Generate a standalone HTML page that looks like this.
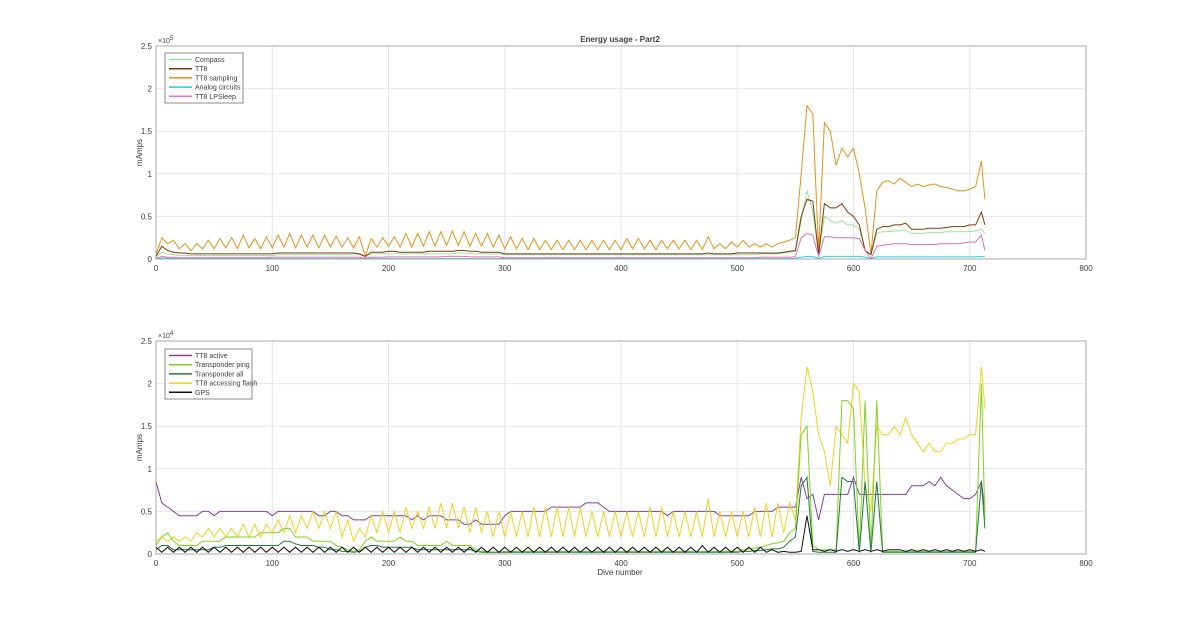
<!DOCTYPE html>
<html><head><meta charset="utf-8"><style>
body{margin:0;background:#fff;}
svg text{font-family:"Liberation Sans",sans-serif;fill:#404040;}
</style></head><body>
<svg id="chart" width="1200" height="622" viewBox="0 0 1200 622" xmlns="http://www.w3.org/2000/svg">
<rect width="1200" height="622" fill="#fff"/>
<g id="top"></g>
<g id="bot"></g>
</svg>
<script>
const step = 5;
const xTicks = [0,100,200,300,400,500,600,700,800];
const yTicks = [0,0.5,1,1.5,2,2.5];
const yTickLabels = ["0","0.5","1","1.5","2","2.5"];
// top panel values (x1000 mAmps), one value every 5 dives
const ttSampling = [5,25,18,22,12,18,10,18,12,22, 12,24,13,25,12,28,13,24,12,26, 13,28,14,30,13,28,14,28,13,28, 14,27,14,25,13,26,3,24,14,25, 15,26,14,30,14,30,15,32,15,32, 16,33,16,32,15,30,15,30,14,28, 12,26,12,24,11,24,11,22,11,22, 11,22,11,22,11,22,11,22,11,22, 11,24,12,24,12,22,11,22,12,22, 12,22,11,22,11,26,12,18,12,20, 14,22,14,18,14,18,14,18,20,22, 25,100,180,170,10,160,150,110,130,120, 130,100,60,5,80,90,92,88,95,90, 85,88,85,87,88,85,84,82,80,80, 82,85,115,70];
const tt8 = [3,15,10,8,7,7,6,6,6,6, 6,6,6,6,6,6,6,6,6,6, 6,7,7,7,7,7,7,7,7,7, 7,7,7,7,7,6,3,8,8,8, 9,9,8,8,8,8,8,9,9,9, 9,9,10,10,9,9,8,8,8,8, 6,6,6,6,6,6,6,6,6,6, 6,6,6,6,6,6,6,6,6,6, 6,6,6,6,6,6,6,6,6,6, 6,6,6,6,6,7,6,6,6,6, 7,7,7,7,7,7,7,7,8,9, 10,50,70,68,5,65,60,60,65,55, 50,40,10,5,35,38,38,40,40,42, 35,35,35,36,36,36,37,38,38,38, 40,40,55,40];
const compass = [2,8,6,5,4,4,4,4,4,4, 4,4,4,4,4,4,4,4,4,4, 4,5,5,5,5,5,5,5,5,5, 5,5,5,5,5,5,3,6,6,6, 6,6,6,6,6,6,6,6,6,6, 6,6,7,7,6,6,6,6,6,6, 5,5,5,5,5,5,5,5,5,5, 5,5,5,5,5,5,5,5,5,5, 5,5,5,5,5,5,5,5,5,5, 5,5,5,5,5,5,5,5,5,5, 5,5,5,5,6,6,6,6,7,8, 9,45,80,55,5,50,45,42,45,40, 40,35,10,5,30,32,32,33,33,34, 30,30,30,31,31,31,32,32,32,32, 32,33,35,30];
const lpSleep = [0.5,3,2,2,1.5,1.5,1.5,1.5,1.5,1.5, 1.5,1.5,1.5,1.5,1.5,1.5,1.5,1.5,1.5,1.5, 2,2,2,2,2,2,2,2,2,2, 2,2,2,2,2,2,1,2,2,2, 2.5,2.5,2.5,2.5,2.5,2.5,2.5,2.5,2.5,2.5, 3,3,3,3,2.5,2.5,2.5,2.5,2.5,2.5, 1.5,1.5,1.5,1.5,1.5,1.5,1.5,1.5,1.5,1.5, 1.5,1.5,1.5,1.5,1.5,1.5,1.5,1.5,1.5,1.5, 1.5,1.5,1.5,1.5,1.5,1.5,1.5,1.5,1.5,1.5, 1.5,1.5,1.5,1.5,1.5,1.5,1.5,1.5,1.5,1.5, 1.5,1.5,1.5,1.5,2,2,2,2,2,2, 3,25,30,28,3,26,26,25,25,25, 25,24,10,0,15,16,17,18,18,18, 17,17,17,17,17,18,18,18,18,19, 20,20,28,10];
const analog = [0.3,1,0.8,0.6,0.5,0.5,0.5,0.5,0.5,0.5, 0.5,0.5,0.5,0.5,0.5,0.5,0.5,0.5,0.5,0.5, 0.5,0.5,0.5,0.5,0.5,0.5,0.5,0.5,0.5,0.5, 0.5,0.5,0.5,0.5,0.5,0.5,0.5,0.5,0.5,0.5, 0.5,0.5,0.5,0.5,0.5,0.5,0.5,0.5,0.5,0.5, 0.5,0.5,0.5,0.5,0.5,0.5,0.5,0.5,0.5,0.5, 0.5,0.5,0.5,0.5,0.5,0.5,0.5,0.5,0.5,0.5, 0.5,0.5,0.5,0.5,0.5,0.5,0.5,0.5,0.5,0.5, 0.5,0.5,0.5,0.5,0.5,0.5,0.5,0.5,0.5,0.5, 0.5,0.5,0.5,0.5,0.5,0.5,0.5,0.5,0.5,0.5, 0.5,0.5,0.5,0.5,0.5,0.5,0.5,0.5,0.5,0.5, 0.8,2,3,3,0.5,3,3,3,3,3, 3,3,2,0.5,2.5,2.5,2.5,2.5,2.5,2.5, 2.5,2.5,2.5,2.5,2.5,2.5,2.5,2.5,2.5,2.5, 2.5,2.5,3,2.5];
// bottom panel values (x1000 mAmps)
const flash = [1.5,2,1.5,2,1.5,2,1.5,2.5,2,3, 2,3,2,3,2,3.5,2,3.5,2,3.5, 2.5,4,2.5,4.5,2.5,4.5,3,5,3,5, 3,5,2,4,1.5,3,2,4.5,2.5,5, 2.5,5,2.5,5.5,3,5,3,5.5,3,6, 3,6,3,5.5,2.5,5.5,2.5,5,2,5, 2,5,2,5,2,5.5,2,5.5,2,5.5, 2,5.5,2,5.5,2,5,2,5,2,5, 2,5,2,5,2,5.5,2,5.5,2,5, 2,5,2,5,2,6.5,2,5,2,5, 2,5,2,5.5,2,6,2,6,2.5,6, 4,16,22,19,14,12,8,15,14,13, 20,19,8,5,15,14,14,15,14,16, 14,13,12,13,12,12,13,13,13.5,13.5, 14,14,22,17];
const active = [8.5,6,5.5,5,4.5,4.5,4.5,4.5,5,5, 4.5,5,5,5,5,5,5,5,5,5, 4.5,5,5,5,5,5,5,5,4.5,4.5, 5,5,4.5,4.5,4,4,4,4.5,4.5,4.5, 4.5,4.5,4.5,4.5,4,4.5,4,4.5,4.5,4.5, 4,4,4,3.5,3.5,4,3.5,3.5,3.5,3.5, 4.5,5,5,5,5,5,5,5,5.5,5.5, 5.5,5.5,5.5,5.5,6,6,6,5.5,5,5, 5,5,5,5,5,5,5,5,4.5,5, 5,5,5,5,5,5,5,4.5,4.5,4.5, 4.5,4.5,4.5,5,5,5,5,5.5,5.5,5.5, 5.5,9,6.5,7,4,7,7,7,7,7, 9,7,7,7,7,7,7,7,7,7, 8,8,8,8.5,8,9,8,7.5,7,6.5, 6.5,7,8.5,5];
const ping = [1,2,2.5,1.5,1,1,1,1,1.5,1.5, 1.5,1.5,2,2,2,2,2,2,2.5,2.5, 2.5,2.5,3,3,2,2,2,1.5,1.5,1.5, 1.5,1,0.8,0.5,0.3,0.5,1.5,2,1.5,1.5, 1.5,1.5,2,1.5,1.5,1,1,1,1,1, 1.5,1,1,1,1,0.5,0.3,0.3,0.2,0.2, 0.3,0.3,0.3,0.3,0.3,0.3,0.3,0.3,0.3,0.3, 0.3,0.3,0.3,0.3,0.3,0.3,0.3,0.3,0.3,0.3, 0.3,0.3,0.3,0.3,0.3,0.3,0.3,0.3,0.3,0.3, 0.3,0.3,0.3,0.3,0.3,0.3,0.3,0.3,0.3,0.3, 0.3,0.5,0.6,0.7,0.8,1,1.2,1.3,1.5,2.5, 3,14,15,1,0.5,0.5,0.5,0.5,18,18, 17,0.3,18,0.3,18,0.3,0.3,0.3,0.3,0.3, 0.3,0.3,0.3,0.3,0.3,0.3,0.3,0.3,0.3,0.3, 0.3,0.3,20,4];
const tAll = [0.5,1,1,0.5,0.5,0.5,0.5,0.5,0.5,0.5, 0.8,0.8,1,1,1,1,1,1,1,1, 1,1,1.5,1.5,1.2,1,1,1,0.8,0.8, 0.5,0.5,0.3,0.3,0.2,0.3,0.8,1,1,0.8, 0.8,0.8,0.8,0.8,0.8,0.5,0.5,0.5,0.5,0.5, 0.5,0.5,0.5,0.5,0.5,0.3,0.2,0.2,0.2,0.2, 0.2,0.2,0.2,0.2,0.2,0.2,0.2,0.2,0.2,0.2, 0.2,0.2,0.2,0.2,0.2,0.2,0.2,0.2,0.2,0.2, 0.2,0.2,0.2,0.2,0.2,0.2,0.2,0.2,0.2,0.2, 0.2,0.2,0.2,0.2,0.2,0.2,0.2,0.2,0.2,0.2, 0.2,0.3,0.3,0.4,0.4,0.5,0.6,0.6,0.8,1.5, 2,8,9,0.3,0.2,0.2,0.2,0.2,9,8.5, 8.5,0.2,8.5,0.2,8.5,0.2,0.2,0.2,0.2,0.2, 0.2,0.2,0.2,0.2,0.2,0.2,0.2,0.2,0.2,0.2, 0.2,0.2,8.5,3];
const gps = [0.8,0.2,0.8,0.2,0.8,0.2,0.8,0.2,0.8,0.2, 0.8,0.2,0.8,0.2,0.8,0.2,0.8,0.2,0.8,0.2, 0.8,0.2,0.8,0.2,0.8,0.2,0.8,0.2,0.8,0.2, 0.8,0.2,0.8,0.2,0.8,0.2,0.8,0.2,0.8,0.2, 0.8,0.2,0.8,0.2,0.8,0.2,0.8,0.2,0.8,0.2, 0.8,0.2,0.8,0.2,0.8,0.2,0.8,0.2,0.8,0.2, 0.8,0.2,0.8,0.2,0.8,0.2,0.8,0.2,0.8,0.2, 0.8,0.2,0.8,0.2,0.8,0.2,0.8,0.2,0.8,0.2, 0.8,0.2,0.8,0.2,0.8,0.2,0.8,0.2,0.8,0.2, 0.8,0.2,0.8,0.2,1,0.2,0.8,0.2,0.8,0.2, 0.8,0.2,0.8,0.2,0.8,0.2,0.5,0.2,0.3,0.2, 0.2,0.3,4.5,0.5,0.5,0.3,0.5,0.3,0.5,0.3, 0.5,0.3,0.5,0.3,0.5,0.3,0.5,0.5,0.5,0.3, 0.5,0.3,0.5,0.3,0.5,0.3,0.5,0.3,0.5,0.3, 0.5,0.3,0.5,0.3];

const NS='http://www.w3.org/2000/svg';
function mk(parent,tag,attrs){const e=document.createElementNS(NS,tag);for(const k in attrs)e.setAttribute(k,attrs[k]);parent.appendChild(e);return e;}
const X0=156,X1=1086;
function xs(d){return X0+(d/800)*(X1-X0);}
function panel(g,top,bottom,yMax,exp,series,legend,lx,ly,lw,title,xlabel){
  const ys=v=>bottom-(v/yMax)*(bottom-top);
  const bg=mk(g,'rect',{x:X0,y:top,width:X1-X0,height:bottom-top,fill:'#fff',stroke:'none'});
  
  xTicks.forEach(t=>{const l=mk(g,'line',{x1:xs(t),x2:xs(t),y1:top,y2:bottom,stroke:'#e6e6e6','stroke-width':1});
    
    const tx=mk(g,'text',{x:xs(t),y:bottom+12,'font-size':8,'text-anchor':'middle'});tx.textContent=t;
    });
  yTicks.forEach((t,i)=>{const v=t*yMax/2.5;const l=mk(g,'line',{x1:X0,x2:X1,y1:ys(v),y2:ys(v),stroke:'#e6e6e6','stroke-width':1});
    
    const tx=mk(g,'text',{x:X0-4,y:ys(v)+3,'font-size':8,'text-anchor':'end'});tx.textContent=yTickLabels[i];
    });
  series.forEach(s=>{const pts=s.v.map((v,i)=>xs(Math.min(i*step,713)).toFixed(1)+','+ys(v).toFixed(1)).join(' ');
    const p=mk(g,'polyline',{points:pts,fill:'none',stroke:s.c,'stroke-width':1});
    });
  const fr=mk(g,'rect',{x:X0,y:top,width:X1-X0,height:bottom-top,fill:'none',stroke:'#9a9a9a','stroke-width':0.8});
  
  const ex=mk(g,'text',{x:X0+2,y:top-3,'font-size':7});ex.innerHTML='×10<tspan dy="-3" font-size="6">'+exp+'</tspan>';
  
  const yl=mk(g,'text',{x:0,y:0,'font-size':8,'text-anchor':'middle',transform:`translate(142,${(top+bottom)/2}) rotate(-90)`});yl.textContent='mAmps';
  
  if(title){const t=mk(g,'text',{x:620,y:top-4,'font-size':8,'font-weight':'bold','text-anchor':'middle'});t.textContent=title;
    }
  if(xlabel){const t=mk(g,'text',{x:620,y:bottom+21,'font-size':8,'text-anchor':'middle'});t.textContent=xlabel;
    }
  const lg=mk(g,'g',{});
  const lb=mk(lg,'rect',{x:lx,y:ly,width:lw,height:legend.length*9.2+4,fill:'#fff',stroke:'#404040','stroke-width':0.6});
  
  legend.forEach((s,i)=>{const yy=ly+6.5+i*9.2;
    const l=mk(lg,'line',{x1:lx+4,x2:lx+27,y1:yy,y2:yy,stroke:s.c,'stroke-width':1.5});
    
    const t=mk(lg,'text',{x:lx+30,y:yy+2.5,'font-size':7});t.textContent=s.label;
    });
}
const topSeries=[
 {n:'tt8-sampling-line',label:'TT8 sampling',c:'#e8901a',v:ttSampling},
 {n:'compass-line',label:'Compass',c:'#9be39b',v:compass},
 {n:'tt8-line',label:'TT8',c:'#7a3a10',v:tt8},
 {n:'analog-circuits-line',label:'Analog circuits',c:'#2ad0d8',v:analog},
 {n:'tt8-lpsleep-line',label:'TT8 LPSleep',c:'#e070b8',v:lpSleep}];
const topLegend=[topSeries[1],topSeries[2],topSeries[0],topSeries[3],topSeries[4]];
panel(document.getElementById('top'),46,259,250,5,topSeries,topLegend,165,53,78,'Energy usage - Part2',null);
const botSeries=[
 {n:'tt8-active-line',label:'TT8 active',c:'#7e3fa8',v:active},
 {n:'tt8-flash-line',label:'TT8 accessing flash',c:'#f2d020',v:flash},
 {n:'transponder-ping-line',label:'Transponder ping',c:'#7ed321',v:ping},
 {n:'transponder-all-line',label:'Transponder all',c:'#1f7a3a',v:tAll},
 {n:'gps-line',label:'GPS',c:'#111',v:gps}];
const botLegend=[botSeries[0],botSeries[2],botSeries[3],botSeries[1],botSeries[4]];
panel(document.getElementById('bot'),341,554,25,4,botSeries,botLegend,165,349,87,null,'Dive number');
</script>
</body></html>
